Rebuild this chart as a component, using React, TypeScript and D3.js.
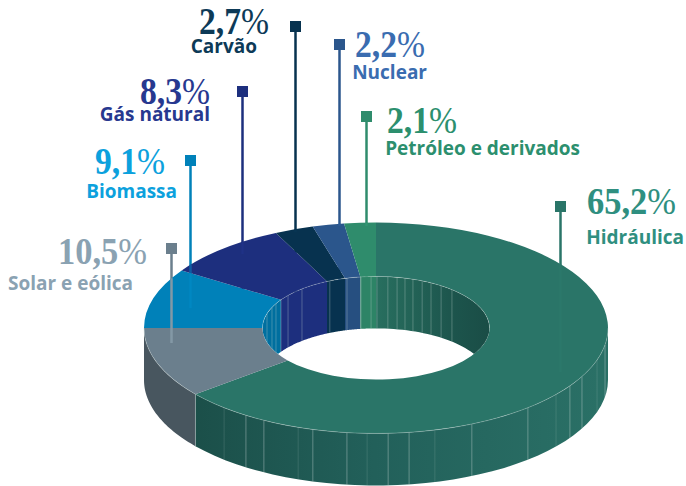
import React from 'react';
import * as d3 from 'd3';

// Values as printed on the chart, clockwise from 12 o'clock
const sources = ['Hidráulica', 'Solar e eólica', 'Biomassa', 'Gás natural', 'Carvão', 'Nuclear', 'Petróleo e derivados'];
const shares = [65.2, 10.5, 9.1, 8.3, 2.7, 2.2, 2.1];
// The slices as really drawn in the picture differ a little from the printed numbers
const drawnShares = [64.2, 10.8, 9.2, 8.7, 2.7, 2.2, 2.2];

const topColors = ['#2a7568', '#6b7f8d', '#0081b9', '#1d2f7e', '#07324f', '#2b568c', '#2f8c6c'];
const textColors = ['#2f8f80', '#8aa2b2', '#0ca1dd', '#27388f', '#0d3a57', '#3a6cb0', '#2c8f6e'];
const outerWallColors = ['url(#wallGreen)', '#48565f', '#005f88', '#16245f', '#06263c', '#20416a', '#236a52'];
const innerWallColors = ['url(#innerGreen)', '#4f606b', '#006f9f', '#1d2f7e', '#07324f', '#264f80', '#2d8466'];

// Seams in the extruded walls, degrees clockwise from the top
const outerSeams = [231.1, 220.9, 214.1, 208.9, 199.6, 195.8, 187.2, 182.2, 177, 171.8, 165.3, 155.6, 139.1, 129.1, 123.3, 117.4, 107.7, 99.2];
const innerSeams = [286.2, 293.6, 298.2, 303.2, 309.2, 319.3, 336, 345.2, 352.4, 357.5, 0.5, 6, 10.7, 14.8, 19, 24, 29, 35, 42];

const cx = 376;
const cy = 328;
const outerR = 232;
const innerR = 113.5;
const squash = 0.4545;
const depth = 52;
const rad = Math.PI / 180;

// Leader square centre and end, number and label baselines
const callouts = [
  { sx: 560.5, sy: 206.5, end: 372, fade: 0.25, nx: 676, ny: 214, lx: 684, ly: 244 },
  { sx: 171.5, sy: 248.5, end: 343, fade: 1, nx: 147, ny: 264, lx: 133, ly: 290 },
  { sx: 190.5, sy: 160.5, end: 308, fade: 0.45, nx: 165, ny: 174, lx: 177, ly: 198 },
  { sx: 242.5, sy: 91.5, end: 254, fade: 0.55, nx: 210, ny: 104, lx: 210, ly: 121 },
  { sx: 295.5, sy: 26.5, end: 232, fade: 0.55, nx: 269, ny: 34, lx: 257, ly: 53 },
  { sx: 339.5, sy: 44.5, end: 226, fade: 0.55, nx: 425, ny: 57, lx: 427, ly: 79 },
  { sx: 366.5, sy: 116.5, end: 226, fade: 0.55, nx: 457, ny: 133, lx: 580, ly: 155 },
];

const pie = d3.pie<number>().sort(null).startAngle(0).endAngle(2 * Math.PI);
const slices = pie(drawnShares);

const topArc = d3.arc<d3.PieArcDatum<number>>().innerRadius(innerR).outerRadius(outerR);

const px = (r: number, a: number) => cx + r * Math.sin(a);
const py = (r: number, a: number) => cy - r * squash * Math.cos(a);

const sweep = (a0: number, a1: number, n = 40) => d3.range(0, n + 1).map((i) => a0 + ((a1 - a0) * i) / n);
const line = d3.line<number[]>();

// Closed band between an elliptical arc and the same arc moved down by the depth
const wall = (r: number, a0: number, a1: number) => {
  const steps = sweep(a0, a1);
  const top = steps.map((a) => [px(r, a), py(r, a)]);
  const bottom = steps.slice().reverse().map((a) => [px(r, a), py(r, a) + depth]);
  return line(top.concat(bottom)) + 'Z';
};
const rim = (r: number, a0: number, a1: number) => line(sweep(a0, a1, 80).map((a) => [px(r, a), py(r, a)])) as string;

const outerSpan = [Math.PI / 2, (3 * Math.PI) / 2];
const innerSpans = [
  [-Math.PI / 2, Math.PI / 2],
  [(3 * Math.PI) / 2, (5 * Math.PI) / 2],
];

const App = () => {
  const outerWalls = slices
    .map((s, i) => ({ i, a0: Math.max(s.startAngle, outerSpan[0]), a1: Math.min(s.endAngle, outerSpan[1]) }))
    .filter((d) => d.a1 > d.a0);

  const innerWalls = slices.flatMap((s, i) =>
    innerSpans
      .map((span) => ({ i, a0: Math.max(s.startAngle, span[0]), a1: Math.min(s.endAngle, span[1]) }))
      .filter((d) => d.a1 > d.a0)
  );

  return (
    <svg width={686} height={486} style={{ position: 'absolute', left: 0, top: 0 }}>
      <defs>
        <linearGradient id="wallGreen" gradientUnits="userSpaceOnUse" x1={190} x2={600} y1={0} y2={0}>
          <stop offset="0" stopColor="#1b4f49" />
          <stop offset="0.45" stopColor="#22605a" />
          <stop offset="1" stopColor="#2a7066" />
        </linearGradient>
        <linearGradient id="innerGreen" gradientUnits="userSpaceOnUse" x1={376} x2={489} y1={0} y2={0}>
          <stop offset="0" stopColor="#286f5f" />
          <stop offset="0.7" stopColor="#1c544c" />
          <stop offset="1" stopColor="#1a4d46" />
        </linearGradient>
        <clipPath id="holeClip">
          <ellipse cx={cx} cy={cy} rx={innerR} ry={innerR * squash} />
        </clipPath>
      </defs>

      {/* leaders sit behind the ring */}
      {callouts.map((c, i) => (
        <line key={i} x1={c.sx} x2={c.sx} y1={c.sy} y2={cy} stroke={topColors[i]} strokeWidth={2.5} />
      ))}

      {/* outer wall */}
      {outerWalls.map((d, k) => (
        <path key={k} d={wall(outerR, d.a0, d.a1)} fill={outerWallColors[d.i]} />
      ))}
      {outerSeams.map((deg, i) => (
        <line
          key={i}
          x1={px(outerR, deg * rad)}
          x2={px(outerR, deg * rad)}
          y1={py(outerR, deg * rad)}
          y2={py(outerR, deg * rad) + depth}
          stroke="#c8d8d4"
          strokeOpacity={i % 3 === 1 ? 0.2 : 0.5}
          strokeWidth={0.8}
        />
      ))}

      {/* top face */}
      <g transform={`translate(${cx},${cy}) scale(1,${squash})`}>
        {slices.map((s, i) => (
          <path key={i} d={topArc(s) as string} fill={topColors[i]} />
        ))}
      </g>
      <path d={rim(outerR, outerSpan[0], outerSpan[1])} fill="none" stroke="#c8d8d4" strokeOpacity={0.45} strokeWidth={0.7} />

      {/* leaders carry on faintly over the face */}
      {callouts.map((c, i) => {
        const topY = cy - outerR * squash * Math.sqrt(1 - ((c.sx - cx) / outerR) ** 2);
        return (
          <line
            key={i}
            x1={c.sx}
            x2={c.sx}
            y1={topY}
            y2={c.end}
            stroke={i === 1 ? '#8398a6' : d3.color(topColors[i])!.brighter(0.3).formatHex()}
            strokeOpacity={c.fade}
            strokeWidth={2.5}
          />
        );
      })}

      {/* inner wall and hole */}
      <g clipPath="url(#holeClip)">
        {innerWalls.map((d, k) => (
          <path key={k} d={wall(innerR, d.a0, d.a1)} fill={innerWallColors[d.i]} />
        ))}
        {innerSeams.map((deg, i) => (
          <line
            key={i}
            x1={px(innerR, deg * rad)}
            x2={px(innerR, deg * rad)}
            y1={py(innerR, deg * rad)}
            y2={py(innerR, deg * rad) + depth}
            stroke="#c8d8d4"
            strokeOpacity={0.45}
            strokeWidth={0.7}
          />
        ))}
      </g>
      <path d={rim(innerR, -Math.PI / 2, Math.PI / 2)} fill="none" stroke="#c8d8d4" strokeOpacity={0.35} strokeWidth={0.7} />

      {/* squares and labels */}
      {callouts.map((c, i) => {
        const num = shares[i].toFixed(1).replace('.', ',');
        return (
          <g key={i}>
            <rect x={c.sx - 5.5} y={c.sy - 5.5} width={11} height={11} fill={topColors[i]} />
            <text
              x={c.nx}
              y={c.ny}
              textAnchor="end"
              textLength={num.length > 3 ? 89 : 70}
              lengthAdjust="spacingAndGlyphs"
              fontFamily="'Liberation Serif', serif"
              fontWeight={700}
              fontSize={37}
              fill={textColors[i]}
            >
              {num}
              <tspan fontWeight={400}>%</tspan>
            </text>
            <text
              x={c.lx}
              y={c.ly}
              textAnchor="end"
              fontFamily="'Open Sans', 'Noto Sans', sans-serif"
              fontWeight={700}
              fontSize={19}
              fill={textColors[i]}
            >
              {sources[i]}
            </text>
          </g>
        );
      })}
    </svg>
  );
};

export default App;
